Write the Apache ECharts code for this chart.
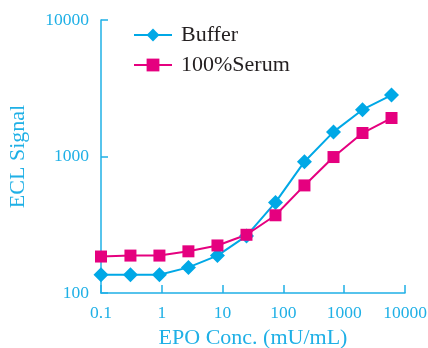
<!DOCTYPE html>
<html>
<head>
<meta charset="utf-8">
<script src="https://cdn.jsdelivr.net/npm/echarts@6/dist/echarts.min.js"></script>
<style>html,body{margin:0;padding:0;background:#fff}#c{width:428px;height:348px}</style>
</head>
<body>
<div id="c"></div>
<script>
const concentrations = [0.1, 0.305, 0.914, 2.74, 8.23, 24.7, 74.1, 222, 667, 2000, 6000];
const bufferValues = [136, 136, 136, 154, 188, 262, 461, 916, 1514, 2203, 2818];
const serumValues = [185, 188, 188, 202, 223, 267, 371, 614, 991, 1486, 1914];
const seriesNames = ['Buffer', '100%Serum'];
const xAxisName = 'EPO Conc. (mU/mL)';
const yAxisName = 'ECL Signal';

const axisColor = '#1fb0e6';
const font = 'Liberation Serif';
const chart = echarts.init(document.getElementById('c'));
chart.setOption({
  animation: false,
  backgroundColor: '#fff',
  grid: {left: 101, right: 23, top: 20, bottom: 55, containLabel: false, outerBoundsMode: 'none'},
  legend: {
    orient: 'vertical', left: 128, top: 19,
    itemWidth: 38, itemHeight: 16, itemGap: 8,
    textStyle: {fontFamily: font, fontSize: 22, color: '#231f20', padding: [0,0,0,4]},
    data: seriesNames
  },
  xAxis: {
    type: 'log', logBase: 10, min: 0.1, max: 10000,
    name: xAxisName, nameLocation: 'middle', nameGap: 33,
    nameTextStyle: {fontFamily: font, fontSize: 22, color: axisColor},
    axisLine: {lineStyle: {color: axisColor, width: 1.5}},
    axisTick: {inside: true, length: 8, lineStyle: {color: axisColor, width: 1.5}},
    minorTick: {show: false},
    splitLine: {show: false},
    axisLabel: {fontFamily: font, fontSize: 17.5, color: axisColor, margin: 11,
      formatter: v => String(v)}
  },
  yAxis: {
    type: 'log', logBase: 10, min: 100, max: 10000,
    name: yAxisName, nameLocation: 'middle', nameGap: 72, nameRotate: 90,
    nameTextStyle: {fontFamily: font, fontSize: 22, color: axisColor},
    axisLine: {show: true, lineStyle: {color: axisColor, width: 1.5}},
    axisTick: {show: true, inside: true, length: 7, lineStyle: {color: axisColor, width: 1.5}},
    splitLine: {show: false},
    axisLabel: {fontFamily: font, fontSize: 17.5, color: axisColor, margin: 12,
      formatter: v => String(v)}
  },
  series: [
    {name: seriesNames[0], type: 'line', symbol: 'diamond', symbolSize: 15,
     data: concentrations.map((c, i) => [c, bufferValues[i]]),
     itemStyle: {color: '#00a8e6'}, lineStyle: {color: '#00a8e6', width: 2}},
    {name: seriesNames[1], type: 'line', symbol: 'rect', symbolSize: 12,
     data: concentrations.map((c, i) => [c, serumValues[i]]),
     itemStyle: {color: '#e5007f'}, lineStyle: {color: '#e5007f', width: 2}}
  ]
});
</script>
</body>
</html>
